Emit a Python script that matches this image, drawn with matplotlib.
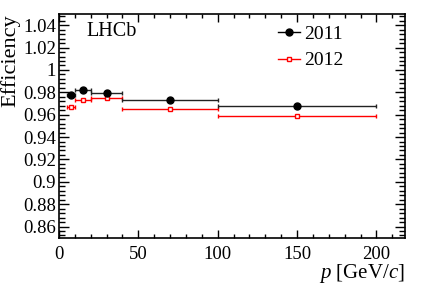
import matplotlib
matplotlib.use("Agg")
import matplotlib.pyplot as plt
from matplotlib.ticker import MultipleLocator
from matplotlib.lines import Line2D

plt.rcParams['font.family'] = ['Liberation Serif', 'DejaVu Serif']
plt.rcParams['mathtext.fontset'] = 'custom'
plt.rcParams['mathtext.rm'] = 'Liberation Serif'
plt.rcParams['mathtext.it'] = 'Liberation Serif:italic'

# bins in p [GeV/c]
p_center = [7.5, 15, 30, 70, 150]
p_halfwidth = [2.5, 5, 10, 30, 50]

eff_2011 = [0.978, 0.9822, 0.979, 0.9728, 0.9675]
err_2011 = [0.0015, 0.001, 0.001, 0.0008, 0.0008]
eff_2012 = [0.967, 0.973, 0.9745, 0.965, 0.959]
err_2012 = [0.001, 0.0008, 0.0008, 0.0006, 0.0006]

fig = plt.figure(figsize=(4.27, 2.90), dpi=100)
ax = fig.add_axes([59/427, 1-237.7/290, 346/427, 223.7/290])

ax.errorbar(p_center, eff_2012, xerr=p_halfwidth, yerr=err_2012, fmt='s',
            color='red', mfc='white', mec='red', ms=3.2, mew=1.0,
            elinewidth=1.0, capsize=1.5, capthick=1.0, zorder=2)
ax.errorbar(p_center, eff_2011, xerr=p_halfwidth, yerr=err_2011, fmt='o',
            color='black', ms=5, elinewidth=1.0, capsize=1.5, capthick=1.0,
            ecolor='#222222', zorder=3)

ax.set_xlim(0, 218)
ax.set_ylim(0.85, 1.05)
ax.xaxis.set_major_locator(MultipleLocator(50))
ax.xaxis.set_minor_locator(MultipleLocator(10))
ax.yaxis.set_minor_locator(MultipleLocator(0.004))
ax.set_yticks([0.86, 0.88, 0.9, 0.92, 0.94, 0.96, 0.98, 1.0, 1.02, 1.04])
ax.set_yticklabels(['0.86', '0.88', '0.9', '0.92', '0.94', '0.96', '0.98', '1', '1.02', '1.04'])
ax.tick_params(which='both', direction='in', top=True, right=True, labelsize=13.5, width=1)
ax.tick_params(axis='y', which='major', length=7, pad=2)
ax.tick_params(axis='y', which='minor', length=4)
ax.tick_params(axis='x', which='major', length=5.5, pad=6)
ax.tick_params(axis='x', which='minor', length=3)
for s in ax.spines.values():
    s.set_linewidth(1.2)

ax.set_ylabel('Efficiency', fontsize=16, loc='top')
ax.yaxis.set_label_coords(-0.112, 1.0)
ax.set_xlabel('$p$ [GeV/$c$]', fontsize=15, loc='right')
ax.xaxis.set_label_coords(1.0, -0.11)

ax.text(0.078, 0.92, 'LHCb', transform=ax.transAxes, fontsize=14.5,
        va='center', ha='left')

handles = [Line2D([], [], color='black', marker='o', ms=5, lw=1),
           Line2D([], [], color='red', marker='s', ms=3.2, mfc='white', mew=1.0, lw=1)]
ax.legend(handles, ['2011', '2012'], loc='upper left', bbox_to_anchor=(0.595, 1.01),
          frameon=False, fontsize=14, handlelength=1.1, handletextpad=0.2,
          labelspacing=0.45, borderpad=0.2)

fig.savefig('out.png', dpi=100)
